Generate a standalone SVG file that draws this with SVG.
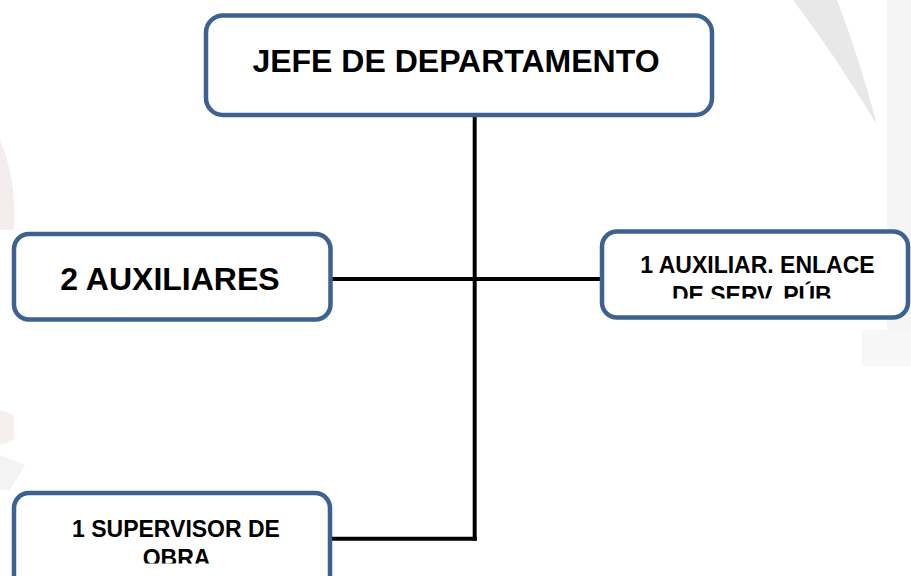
<svg xmlns="http://www.w3.org/2000/svg" width="911" height="576" viewBox="0 0 911 576">
  <style>
    .box { fill: #ffffff; stroke: #3d6190; stroke-width: 4.5; }
    .conn { stroke: #000000; stroke-width: 4; fill: none; }
    .big { font-family: "Liberation Sans", Arial, sans-serif; font-weight: bold; font-size: 32px; fill: #000; text-anchor: middle; }
    .small { font-family: "Liberation Sans", Arial, sans-serif; font-weight: bold; font-size: 23px; fill: #000; text-anchor: middle; }
  </style>
  <defs>
    <clipPath id="clipRight"><rect x="600" y="240" width="311" height="58.5"/></clipPath>
    <clipPath id="clipBottom"><rect x="14" y="500" width="316" height="63.5"/></clipPath>
  </defs>
  <rect x="0" y="0" width="911" height="576" fill="#ffffff"/>
  <g id="watermark">
    <path d="M793,0 L837,0 Q860,60 877,125 Q835,55 793,0 Z" fill="#e8e8e8"/>
    <rect x="887" y="0" width="24" height="330" fill="#f5f5f5"/>
    <rect x="862" y="330" width="49" height="36" fill="#f7f7f7"/>
    <path d="M0,140 Q17,180 14,230 L0,230 Z" fill="#f5eded"/>
    <path d="M0,410 L14,415 L14,440 L0,445 Z" fill="#f7eeee"/>
    <path d="M0,455 L25,465 L10,490 L0,490 Z" fill="#f3f3f3"/>
  </g>
  <g id="connectors">
    <line class="conn" x1="474.7" y1="115" x2="474.7" y2="540.7"/>
    <line class="conn" x1="332" y1="279" x2="600" y2="279"/>
    <line class="conn" x1="332" y1="538.7" x2="476.7" y2="538.7"/>
  </g>
  <g id="node-jefe">
    <rect class="box" x="206" y="15.5" width="506" height="99.5" rx="17"/>
    <text class="big" x="456" y="72">JEFE DE DEPARTAMENTO</text>
  </g>
  <g id="node-auxiliares">
    <rect class="box" x="14" y="234" width="316.5" height="85.5" rx="15"/>
    <text class="big" x="170" y="290">2 AUXILIARES</text>
  </g>
  <g id="node-enlace">
    <rect class="box" x="602" y="231.5" width="306" height="86" rx="15"/>
    <g clip-path="url(#clipRight)">
      <text class="small" x="757.5" y="272.7">1 AUXILIAR. ENLACE</text>
      <text class="small" x="755" y="302.5">DE SERV. PÚB.</text>
    </g>
  </g>
  <g id="node-supervisor">
    <rect class="box" x="14" y="493" width="316" height="100" rx="15"/>
    <g clip-path="url(#clipBottom)">
      <text class="small" x="176" y="536.7">1 SUPERVISOR DE</text>
      <text class="small" x="176.5" y="566">OBRA</text>
    </g>
  </g>
</svg>
